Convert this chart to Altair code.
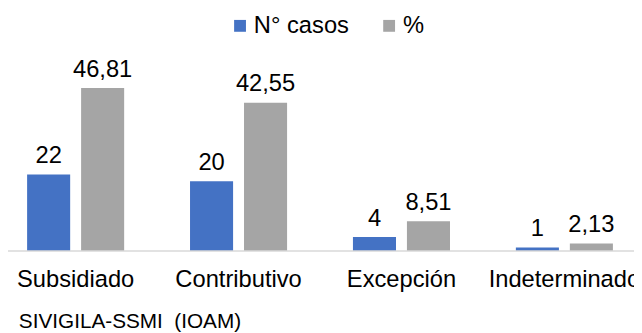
import altair as alt
import pandas as pd

# ---- data ----
categories = ["Subsidiado", "Contributivo", "Excepción", "Indeterminado"]
casos = [22, 20, 4, 1]
porcentaje = [46.81, 42.55, 8.51, 2.13]
series = ["N° casos", "%"]
colors = ["#4472C4", "#A5A5A5"]
footer = "SIVIGILA-SSMI\u00a0\u00a0(IOAM)"

rows = []
for c, n, p in zip(categories, casos, porcentaje):
    rows.append({"cat": c, "serie": series[0], "valor": n, "etiqueta": str(n)})
    rows.append({"cat": c, "serie": series[1], "valor": p,
                 "etiqueta": f"{p:.2f}".replace(".", ",")})
df = pd.DataFrame(rows)

FONT = "Liberation Sans"
FS = 24
W, H = 634, 244
step = 165
x0 = 76.5 - 8 - step / 2

x_scale = alt.Scale(domain=categories, range=[x0, x0 + 4 * step],
                    paddingInner=0, paddingOuter=0)
off_scale = alt.Scale(domain=series, paddingInner=0.2026, paddingOuter=0.61)
y_scale = alt.Scale(domain=[0, 69.2], nice=False, zero=True)

base = alt.Chart(df).encode(
    x=alt.X("cat:N", sort=categories, scale=x_scale,
            axis=alt.Axis(title=None, domain=False, ticks=False, tickSize=0,
                          grid=False, labelAngle=0, labelFontSize=FS,
                          labelFont=FONT, labelColor="#000000",
                          labelPadding=36, labelBaseline="alphabetic",
                          labelLimit=400)),
    xOffset=alt.XOffset("serie:N", sort=series, scale=off_scale),
    y=alt.Y("valor:Q", scale=y_scale, axis=None),
)

bars = base.mark_bar().encode(
    color=alt.Color("serie:N", sort=series,
                    scale=alt.Scale(domain=series, range=colors),
                    legend=alt.Legend(title=None, orient="none", legendX=223,
                                      legendY=4, direction="horizontal",
                                      symbolType="square", symbolSize=144,
                                      symbolStrokeWidth=0,
                                      labelFontSize=FS, labelFont=FONT,
                                      labelColor="#000000", labelOffset=2,
                                      columnPadding=28, padding=0,
                                      labelLimit=400))
)

labels = base.mark_text(dy=-11.5, baseline="alphabetic", fontSize=FS,
                        font=FONT, color="#000000").encode(text="etiqueta:N")

rule = alt.Chart(pd.DataFrame({"valor": [0]})).mark_rule(
    color="#D9D9D9", strokeWidth=1.5
).encode(y=alt.Y("valor:Q", scale=y_scale, axis=None),
         x=alt.value(0), x2=alt.value(W))

chart = alt.layer(bars, labels, rule).properties(
    width=W, height=H,
    title=alt.TitleParams(footer, orient="bottom", anchor="start",
                          frame="group", fontSize=21, font=FONT,
                          fontWeight="normal", color="#000000",
                          dx=11, offset=20, baseline="top"),
    padding={"left": 0, "top": 0, "right": 0, "bottom": 81},
    autosize=alt.AutoSizeParams(type="none"),
).configure_view(stroke=None)

chart.save("out.html", embed_options={"renderer": "svg", "actions": False})
